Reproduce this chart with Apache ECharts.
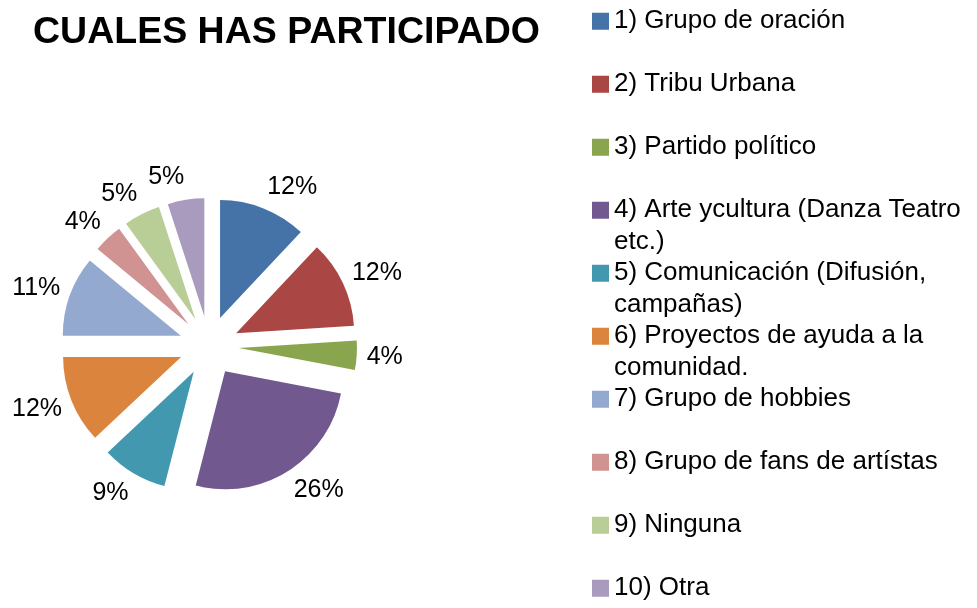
<!DOCTYPE html>
<html>
<head>
<meta charset="utf-8">
<script src="https://cdn.jsdelivr.net/npm/echarts@6/dist/echarts.min.js"></script>
<style>
  html, body { margin: 0; padding: 0; background: #fff; }
  #chart { width: 977px; height: 608px; }
</style>
</head>
<body>
<div id="chart"></div>
<script>
// categories as they appear in the legend
const categories = [
  "1) Grupo de oración",
  "2) Tribu Urbana",
  "3) Partido político",
  "4) Arte ycultura (Danza Teatro etc.)",
  "5) Comunicación (Difusión, campañas)",
  "6) Proyectos de ayuda a la comunidad.",
  "7) Grupo de hobbies",
  "8) Grupo de fans de artístas",
  "9) Ninguna",
  "10) Otra"
];
// legend text with the line breaks of the original
const legendLines = [
  ["1) Grupo de oración"],
  ["2) Tribu Urbana"],
  ["3) Partido político"],
  ["4) Arte ycultura (Danza Teatro", "etc.)"],
  ["5) Comunicación (Difusión,", "campañas)"],
  ["6) Proyectos de ayuda a la", "comunidad."],
  ["7) Grupo de hobbies"],
  ["8) Grupo de fans de artístas"],
  ["9) Ninguna"],
  ["10) Otra"]
];
const percents = [12, 12, 4, 26, 9, 12, 11, 4, 5, 5];
const colors = ["#4572A7", "#AA4643", "#89A54E", "#71588F", "#4198AF",
                "#DB843D", "#93A9CF", "#D19392", "#B9CD96", "#A99BBD"];

const chart = echarts.init(document.getElementById("chart"));
const font = "'Liberation Sans', Arial, sans-serif";
const pieCenter = [209, 346];

const option = {
  animation: false,
  color: colors,
  title: {
    text: "CUALES HAS PARTICIPADO",
    left: 33,
    top: 14,
    padding: 0,
    textStyle: { fontFamily: font, fontSize: 37.5, fontWeight: "bold", color: "#000" }
  },
  legend: {
    orient: "vertical",
    left: 592,
    top: -26,
    height: 700,
    padding: 0,
    itemWidth: 17,
    itemHeight: 17,
    itemGap: -31.5,
    icon: "rect",
    selectedMode: false,
    data: categories,
    // three text lines per item, the marker sits on the middle one
    formatter: function (name) {
      const l = legendLines[categories.indexOf(name)];
      return " \n" + l[0] + "\n" + (l[1] || " ");
    },
    textStyle: {
      fontFamily: font,
      fontSize: 26,
      lineHeight: 31.5,
      color: "#000"
    }
  },
  series: [
    {
      type: "pie",
      center: pieCenter,
      radius: 118,
      startAngle: 90,
      clockwise: true,
      selectedMode: "multiple",
      selectedOffset: 30,
      avoidLabelOverlap: false,
      select: { itemStyle: { borderWidth: 0 } },
      emphasis: { disabled: true },
      label: {
        show: true,
        position: "outside",
        distanceToLabelLine: 0,
        fontFamily: font,
        fontSize: 25,
        color: "#000",
        formatter: function (p) { return p.value + "%"; }
      },
      labelLine: { show: false, length: 10, length2: 0 },
      // push labels away vertically too, like the original's label boxes
      labelLayout: function (params) {
        const r = params.labelRect;
        let ax = r.x + r.width / 2;
        if (params.align === "left") ax = r.x;
        if (params.align === "right") ax = r.x + r.width;
        const ay = r.y + r.height / 2;
        const vx = ax - pieCenter[0], vy = ay - pieCenter[1];
        const d = Math.sqrt(vx * vx + vy * vy) || 1;
        return { dy: vy / d * r.height / 2 };
      },
      data: categories.map(function (c, i) {
        return { name: c, value: percents[i], selected: true };
      })
    }
  ]
};
chart.setOption(option);
</script>
</body>
</html>
